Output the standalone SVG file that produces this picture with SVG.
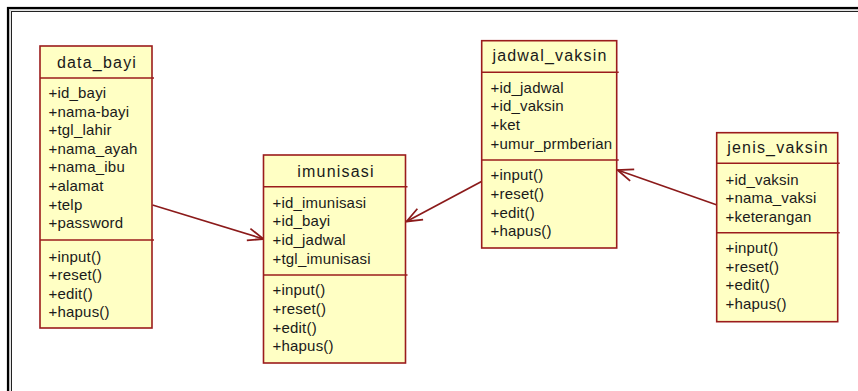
<svg xmlns="http://www.w3.org/2000/svg" width="858" height="391" viewBox="0 0 858 391">
<style>
.box{fill:#FFFFC4;stroke:#9B1C1C;stroke-width:1.6}
.div{stroke:#9B1C1C;stroke-width:1.6}
.t{font-family:"Liberation Sans",Arial,sans-serif;font-size:15px;fill:#1a1a1a;letter-spacing:0.2px}
.h{font-family:"Liberation Sans",Arial,sans-serif;font-size:16px;fill:#1a1a1a;letter-spacing:1.2px;text-anchor:middle}
.c{stroke:#8B1A1A;stroke-width:1.6;fill:none}
</style>
<defs>
<marker id="arr" markerUnits="userSpaceOnUse" markerWidth="20" markerHeight="20" viewBox="-16 -8 18 16" refX="0" refY="0" orient="auto">
<path d="M-14,-5.5 L0,0 L-14,5.5" fill="none" stroke="#8B1A1A" stroke-width="1.6"/>
</marker>
</defs>
<rect width="858" height="391" fill="#fff"/>
<g id="frame" fill="none">
<rect x="8" y="8" width="870" height="400" stroke="#000" stroke-width="2.2"/>
<rect x="9.8" y="9.8" width="866" height="396" stroke="#aaa" stroke-width="1"/>
<rect x="11.5" y="11.5" width="864" height="394" stroke="#222" stroke-width="1"/>
</g>
<g id="connectors">
<line class="c" x1="152.5" y1="205" x2="263.5" y2="239" marker-end="url(#arr)"/>
<line class="c" x1="481.5" y1="181.5" x2="406.5" y2="221.5" marker-end="url(#arr)"/>
<line class="c" x1="717" y1="205" x2="617.5" y2="170" marker-end="url(#arr)"/>
</g>
<g id="data_bayi">
<rect class="box" x="40" y="46" width="112" height="282"/>
<line class="div" x1="40" y1="78" x2="154" y2="78"/>
<line class="div" x1="40" y1="240" x2="154" y2="240"/>
<text class="h" x="97" y="68">data_bayi</text>
<text class="t" x="48.5" y="98">+id_bayi</text>
<text class="t" x="48.5" y="116.6">+nama-bayi</text>
<text class="t" x="48.5" y="135.2">+tgl_lahir</text>
<text class="t" x="48.5" y="153.8">+nama_ayah</text>
<text class="t" x="48.5" y="172.4">+nama_ibu</text>
<text class="t" x="48.5" y="191">+alamat</text>
<text class="t" x="48.5" y="209.6">+telp</text>
<text class="t" x="48.5" y="228.2">+password</text>
<text class="t" x="48.5" y="261.7">+input()</text>
<text class="t" x="48.5" y="280.2">+reset()</text>
<text class="t" x="48.5" y="298.7">+edit()</text>
<text class="t" x="48.5" y="317.2">+hapus()</text>
</g>
<g id="imunisasi">
<rect class="box" x="263.5" y="155" width="142" height="208"/>
<line class="div" x1="263.5" y1="186.7" x2="407.5" y2="186.7"/>
<line class="div" x1="263.5" y1="275" x2="407.5" y2="275"/>
<text class="h" x="336" y="177">imunisasi</text>
<text class="t" x="272.5" y="207.7">+id_imunisasi</text>
<text class="t" x="272.5" y="226.3">+id_bayi</text>
<text class="t" x="272.5" y="245">+id_jadwal</text>
<text class="t" x="272.5" y="263.7">+tgl_imunisasi</text>
<text class="t" x="272.5" y="295.2">+input()</text>
<text class="t" x="272.5" y="313.9">+reset()</text>
<text class="t" x="272.5" y="332.6">+edit()</text>
<text class="t" x="272.5" y="351.3">+hapus()</text>
</g>
<g id="jadwal_vaksin">
<rect class="box" x="481.7" y="40.7" width="135" height="207.3"/>
<line class="div" x1="481.7" y1="72.3" x2="618.7" y2="72.3"/>
<line class="div" x1="481.7" y1="160" x2="618.7" y2="160"/>
<text class="h" x="550" y="61">jadwal_vaksin</text>
<text class="t" x="490.5" y="92.7">+id_jadwal</text>
<text class="t" x="490.5" y="111.3">+id_vaksin</text>
<text class="t" x="490.5" y="130">+ket</text>
<text class="t" x="490.5" y="148.7">+umur_prmberian</text>
<text class="t" x="490.5" y="180.2">+input()</text>
<text class="t" x="490.5" y="198.9">+reset()</text>
<text class="t" x="490.5" y="217.6">+edit()</text>
<text class="t" x="490.5" y="236.3">+hapus()</text>
</g>
<g id="jenis_vaksin">
<rect class="box" x="716.7" y="132.7" width="121" height="189"/>
<line class="div" x1="716.7" y1="163.3" x2="839.7" y2="163.3"/>
<line class="div" x1="716.7" y1="232.7" x2="839.7" y2="232.7"/>
<text class="h" x="778" y="153">jenis_vaksin</text>
<text class="t" x="725.5" y="185">+id_vaksin</text>
<text class="t" x="725.5" y="203.4">+nama_vaksi</text>
<text class="t" x="725.5" y="221.8">+keterangan</text>
<text class="t" x="725.5" y="253.3">+input()</text>
<text class="t" x="725.5" y="271.7">+reset()</text>
<text class="t" x="725.5" y="290.1">+edit()</text>
<text class="t" x="725.5" y="308.5">+hapus()</text>
</g>
</svg>
